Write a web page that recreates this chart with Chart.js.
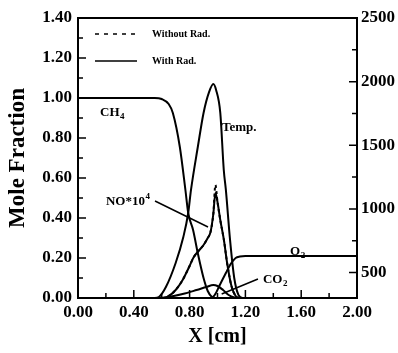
<!DOCTYPE html>
<html>
<head>
<meta charset="utf-8">
<script src="https://cdn.jsdelivr.net/npm/chart.js@4.4.1/dist/chart.umd.min.js"></script>
<style>
  html, body { margin: 0; padding: 0; background: #fff; }
  #chart { display: block; }
</style>
</head>
<body>
<canvas id="chart" width="398" height="353"></canvas>
<script>
// x positions [cm] and values
const ch4X = [0.00, 0.55, 0.60, 0.65, 0.68, 0.73, 0.77, 0.79, 0.825, 0.86, 0.90, 0.93, 0.96, 0.98, 2.00];
const ch4Y = [1.00, 1.00, 0.995, 0.97, 0.925, 0.755, 0.54, 0.425, 0.34, 0.22, 0.10, 0.035, 0.005, 0.00, 0.00];

const tempX = [0.00, 0.55, 0.58, 0.63, 0.70, 0.755, 0.79, 0.81, 0.86, 0.90, 0.94, 0.97, 0.99, 1.02, 1.045, 1.06, 1.09, 1.12, 1.15, 1.18, 2.00];
const tempK = [300, 300, 308, 386, 575, 779, 968, 1149, 1494, 1754, 1919, 1981, 1934, 1754, 1306, 1149, 756, 457, 324, 300, 300];

const noX = [0.00, 0.60, 0.64, 0.70, 0.75, 0.80, 0.83, 0.87, 0.90, 0.93, 0.95, 0.97, 0.985, 1.00, 1.02, 1.046, 1.07, 1.10, 1.13, 1.16, 2.00];
const noY = [0.00, 0.00, 0.005, 0.04, 0.09, 0.16, 0.205, 0.24, 0.265, 0.30, 0.33, 0.42, 0.525, 0.48, 0.39, 0.29, 0.17, 0.06, 0.01, 0.00, 0.00];
const noNoRadY = [0.00, 0.00, 0.005, 0.04, 0.09, 0.16, 0.205, 0.24, 0.265, 0.30, 0.33, 0.42, 0.565, 0.48, 0.39, 0.29, 0.17, 0.06, 0.01, 0.00, 0.00];

const co2X = [0.00, 0.58, 0.65, 0.75, 0.85, 0.92, 0.97, 1.00, 1.04, 1.08, 1.12, 1.16, 2.00];
const co2Y = [0.00, 0.00, 0.005, 0.02, 0.04, 0.055, 0.065, 0.06, 0.04, 0.015, 0.003, 0.00, 0.00];

const o2X = [0.00, 0.95, 0.98, 1.02, 1.06, 1.09, 1.11, 1.13, 1.16, 1.20, 2.00];
const o2Y = [0.00, 0.00, 0.015, 0.07, 0.125, 0.165, 0.185, 0.20, 0.207, 0.21, 0.21];

const xTicks = [0, 0.2, 0.4, 0.6, 0.8, 1.0, 1.2, 1.4, 1.6, 1.8, 2.0];
const yTicks = [0, 0.1, 0.2, 0.3, 0.4, 0.5, 0.6, 0.7, 0.8, 0.9, 1.0, 1.1, 1.2, 1.3, 1.4];
const tTicks = [500, 750, 1000, 1250, 1500, 1750, 2000, 2250, 2500];

const zip = (xs, ys) => xs.map((x, i) => ({ x: x, y: ys[i] }));

const serif = "'Liberation Serif', 'Times New Roman', serif";
const tickFont = { family: serif, size: 17, weight: 'bold' };

function line(data, axis, dash) {
  return {
    data: data,
    yAxisID: axis,
    borderColor: '#000',
    borderWidth: 2,
    borderDash: dash || [],
    pointRadius: 0,
    fill: false,
    cubicInterpolationMode: 'monotone'
  };
}

// frame, inward ticks, legend, labels and axis titles
const decor = {
  id: 'decor',
  afterDraw(chart) {
    const ctx = chart.ctx;
    const a = chart.chartArea;
    const sx = chart.scales.x, sy = chart.scales.y, st = chart.scales.t;
    ctx.save();
    ctx.strokeStyle = '#000';
    ctx.fillStyle = '#000';
    ctx.lineWidth = 2;
    ctx.strokeRect(a.left, a.top, a.right - a.left, a.bottom - a.top);

    ctx.lineWidth = 1.5;
    ctx.beginPath();
    xTicks.forEach((v, i) => {
      const p = sx.getPixelForValue(v);
      const len = i % 2 === 0 ? 8 : 5;
      ctx.moveTo(p, a.bottom); ctx.lineTo(p, a.bottom - len);
    });
    yTicks.forEach((v, i) => {
      const p = sy.getPixelForValue(v);
      const len = i % 2 === 0 ? 8 : 5;
      ctx.moveTo(a.left, p); ctx.lineTo(a.left + len, p);
    });
    tTicks.forEach((v, i) => {
      const p = st.getPixelForValue(v);
      const len = i % 2 === 0 ? 8 : 5;
      ctx.moveTo(a.right, p); ctx.lineTo(a.right - len, p);
    });
    ctx.stroke();

    // legend
    ctx.lineWidth = 1.5;
    ctx.setLineDash([4, 5]);
    ctx.beginPath();
    ctx.moveTo(a.left + 17, a.top + 16); ctx.lineTo(a.left + 59, a.top + 16);
    ctx.stroke();
    ctx.setLineDash([]);
    ctx.beginPath();
    ctx.moveTo(a.left + 17, a.top + 43); ctx.lineTo(a.left + 59, a.top + 43);
    ctx.stroke();
    ctx.font = 'bold 10px ' + serif;
    ctx.textBaseline = 'middle';
    ctx.fillText('Without Rad.', a.left + 74, a.top + 16);
    ctx.fillText('With Rad.', a.left + 74, a.top + 43);

    // curve labels
    const px = v => sx.getPixelForValue(v);
    const py = v => sy.getPixelForValue(v);
    ctx.textBaseline = 'alphabetic';
    function chem(main, sub, x, y, sup) {
      ctx.font = 'bold 13px ' + serif;
      const X = px(x), Y = py(y);
      ctx.fillText(main, X, Y);
      const w = ctx.measureText(main).width;
      ctx.font = 'bold 9px ' + serif;
      ctx.fillText(sub, X + w + 0.5, sup ? Y - 6 : Y + 3);
    }
    chem('CH', '4', 0.158, 0.91);
    ctx.font = 'bold 13px ' + serif;
    ctx.fillText('Temp.', px(1.032), py(0.835));
    chem('NO*10', '4', 0.20, 0.465, true);
    chem('O', '2', 1.52, 0.215);
    chem('CO', '2', 1.326, 0.075);

    ctx.lineWidth = 1.5;
    ctx.beginPath();
    ctx.moveTo(px(0.552), py(0.485)); ctx.lineTo(px(0.932), py(0.355));
    ctx.moveTo(px(1.29), py(0.095)); ctx.lineTo(px(1.03), py(0.02));
    ctx.stroke();

    // axis titles
    ctx.font = 'bold 23px ' + serif;
    ctx.textAlign = 'center';
    ctx.textBaseline = 'middle';
    ctx.save();
    ctx.translate(18, 158);
    ctx.rotate(-Math.PI / 2);
    ctx.fillText('Mole Fraction', 0, 0);
    ctx.restore();
    ctx.font = 'bold 20px ' + serif;
    ctx.fillText('X [cm]', (a.left + a.right) / 2, 337);
    ctx.restore();
  }
};

new Chart(document.getElementById('chart'), {
  type: 'line',
  data: {
    datasets: [
      line(zip(noX, noNoRadY), 'y', [3, 3]),
      line(zip(ch4X, ch4Y), 'y'),
      line(zip(tempX, tempK), 't'),
      line(zip(noX, noY), 'y'),
      line(zip(co2X, co2Y), 'y'),
      line(zip(o2X, o2Y), 'y')
    ]
  },
  options: {
    responsive: false,
    animation: false,
    devicePixelRatio: 1,
    layout: { padding: { top: 18, left: 0, right: 0, bottom: 0 } },
    plugins: { legend: { display: false }, tooltip: { enabled: false } },
    scales: {
      x: {
        type: 'linear', min: 0, max: 2,
        grid: { display: false, drawTicks: false }, border: { display: false },
        afterBuildTicks: s => { s.ticks = xTicks.map(v => ({ value: v })); },
        afterFit: s => { s.height = 55; },
        ticks: {
          font: tickFont, color: '#000', padding: 4, maxRotation: 0, autoSkip: false,
          callback: v => (Math.round(v * 10) % 4 === 0 ? v.toFixed(2) : '')
        }
      },
      y: {
        type: 'linear', position: 'left', min: 0, max: 1.4,
        grid: { display: false, drawTicks: false }, border: { display: false },
        afterBuildTicks: s => { s.ticks = yTicks.map(v => ({ value: v })); },
        afterFit: s => { s.width = 78; },
        ticks: {
          font: tickFont, color: '#000', padding: 6, autoSkip: false,
          callback: v => (Math.round(v * 10) % 2 === 0 ? v.toFixed(2) : '')
        }
      },
      t: {
        type: 'linear', position: 'right', min: 300, max: 2500,
        grid: { display: false, drawTicks: false }, border: { display: false },
        afterBuildTicks: s => { s.ticks = tTicks.map(v => ({ value: v })); },
        afterFit: s => { s.width = 41; },
        ticks: {
          font: tickFont, color: '#000', padding: 4, autoSkip: false,
          callback: v => (v % 500 === 0 ? String(v) : '')
        }
      }
    }
  },
  plugins: [decor]
});
</script>
</body>
</html>
